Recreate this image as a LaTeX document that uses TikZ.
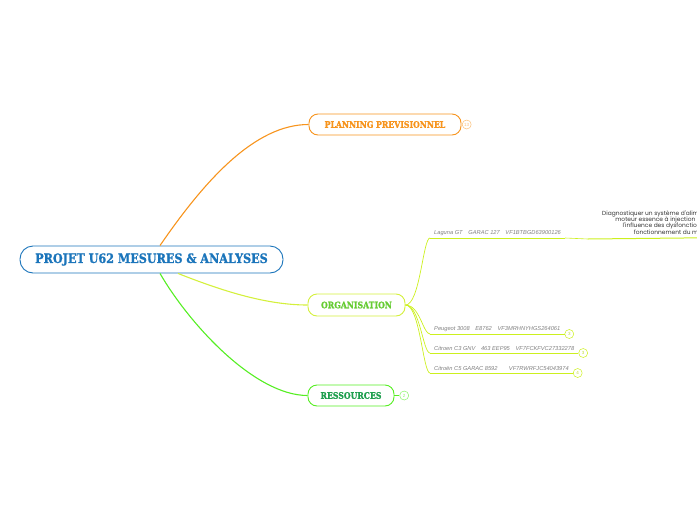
\documentclass[tikz,border=0pt]{standalone}
\usepackage{fontspec}
\newfontfamily\slabfont{DejaVu Serif}[FakeStretch=0.86,BoldFeatures={FakeBold=1.2}]
\newfontfamily\carfont{Liberation Sans}
\newfontfamily\notefont{Poppins}
\usetikzlibrary{positioning}
\definecolor{rootblue}{HTML}{1B75BB}
\definecolor{planorange}{HTML}{F7941D}
\definecolor{orgline}{HTML}{D4F03C}
\definecolor{orgtext}{HTML}{66CC33}
\definecolor{resline}{HTML}{55EE22}
\definecolor{restext}{HTML}{1E9E4E}
\definecolor{carline}{HTML}{CCF01E}

\begin{document}
\begin{tikzpicture}[
    x=1pt,y=-1pt,
    topic/.style={rectangle,draw,line width=0.9pt,rounded corners=9pt,fill=white,
                  inner sep=0pt,minimum height=21pt,
                  font=\slabfont\bfseries\fontsize{9}{10}\selectfont},
    badge/.style={circle,draw,line width=0.5pt,inner sep=0pt,minimum size=9pt,
                  font=\carfont\fontsize{4.5}{5}\selectfont},
    car/.style={anchor=south west,inner xsep=4pt,inner ysep=2pt,text=gray,
                font=\carfont\itshape\fontsize{5.7}{6.5}\selectfont},
    link/.style={line width=1.1pt}
  ]
    \clip (0,0) rectangle (697,520);
    \useasboundingbox (0,0) rectangle (697,520);

    % main topic
    \node[topic,draw=rootblue,text=rootblue,minimum width=263pt,minimum height=27pt,
          rounded corners=13pt,font=\slabfont\bfseries\fontsize{13}{15}\selectfont]
          (root) at (151.5,259.5) {PROJET U62 MESURES \& ANALYSES};

    % branches
    \node[topic,draw=planorange,text=planorange,minimum width=152pt] (plan) at (385,124.5)
          {PLANNING PREVISIONNEL};
    \node[badge,draw=planorange!60,text=planorange!60,right=0.5pt of plan] (planbadge) {13};

    \node[topic,draw=orgline,text=orgtext,minimum width=97pt,minimum height=22pt] (org)
          at (356.5,305) {ORGANISATION};

    \node[topic,draw=resline,text=restext,minimum width=86pt] (res) at (351,395.5)
          {RESSOURCES};
    \node[badge,draw=resline!70,text=resline!70,right=5pt of res] (resbadge) {2};

    \draw[link,planorange] ([xshift=8.5pt]root.north) .. controls (205,180) and (255,124.5) .. (plan.west);
    \draw[link,orgline] ([xshift=26.5pt]root.south) .. controls (220,290) and (265,305) .. (org.west);
    \draw[link,resline] ([xshift=8.5pt]root.south) .. controls (190,325) and (255,395.5) .. (res.west);
    \draw[line width=0.8pt,resline] (res.east) -- (resbadge.west);

    % vehicles
    \node[car] (lag) at (430,238) {Laguna GT\quad GARAC 127\quad VF1BTBGD63900126};
    \node[car] (peu) at (430,334) {Peugeot 3008\quad E8762\quad VF3MRHNYHGS264061};
    \node[car] (cthree) at (430,353) {Citroen C3 GNV\quad 463 EEP95\quad VF7FCKFVC27332278};
    \node[car] (cfive) at (430,373) {Citroën C5 GARAC 8592\qquad VF7RWRFJC54043974};

    \foreach \c in {lag,peu,cthree,cfive}{
      \draw[line width=1pt,carline] (\c.south west) -- (\c.south east);
      \draw[line width=0.7pt,carline] (org.east) .. controls (420,305) and (423,0|-\c.south west) .. (\c.south west);
    }

    \node[badge,draw=carline,text=carline!80!gray,right=0pt of peu.south east] (peubadge) {3};
    \node[badge,draw=carline,text=carline!80!gray,right=0pt of cthree.south east] (cthreebadge) {3};
    \node[badge,draw=carline,text=carline!80!gray,right=0pt of cfive.south east] (cfivebadge) {4};

    % objective of the Laguna study
    \node[anchor=south,align=center,inner sep=1pt,text=black!80,
          font=\notefont\fontsize{5.9}{6.4}\selectfont] (goal) at (690,237)
          {Diagnostiquer un système d'alimentation en carburant d'un\\
           moteur essence à injection indirecte et déterminer\\
           l'influence des dysfonctionnements sur le bon\\
           fonctionnement du moteur thermique};
    \coordinate (goalstart) at (588,239);
    \draw[line width=1pt,carline] (goalstart) -- (goal.south east);
    \draw[line width=0.6pt,carline] (lag.south east) -- (goalstart);
\end{tikzpicture}
\end{document}
